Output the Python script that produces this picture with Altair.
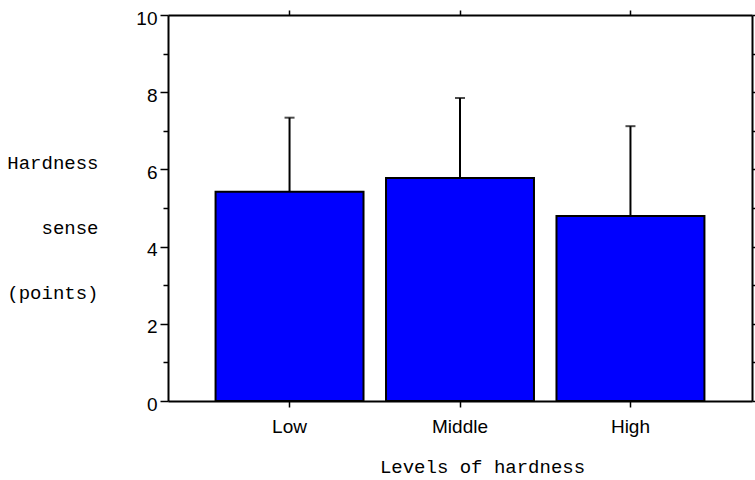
import altair as alt
import pandas as pd

levels = ["Low", "Middle", "High"]
means = [5.42, 5.78, 4.79]
sds = [1.92, 2.07, 2.33]
y_ticks = [0, 1, 2, 3, 4, 5, 6, 7, 8, 9, 10]

df = pd.DataFrame({
    "level": levels,
    "mean": means,
    "top": [m + s for m, s in zip(means, sds)],
})

TICK_FONT = "Liberation Sans"
TITLE_FONT = "Liberation Mono"

xscale = alt.Scale(domain=levels, paddingInner=0.132, paddingOuter=0.279)
yscale = alt.Scale(domain=[0, 10], nice=False, zero=True)

base = alt.Chart(df)

bars = base.mark_bar(color="#0000FF", stroke="black", strokeWidth=2).encode(
    x=alt.X("level:N", scale=xscale, sort=levels,
            axis=alt.Axis(orient="bottom", title="Levels of hardness", labelAngle=0,
                          tickSize=6, labelPadding=10, labelFontSize=19, labelFont=TICK_FONT,
                          titleFont=TITLE_FONT, titleFontSize=19, titleFontWeight="normal",
                          titleX=314, titleY=71, titleBaseline="alphabetic", titleAlign="center",
                          domainColor="black", domainWidth=2, tickColor="black", tickWidth=1.5,
                          labelColor="black", titleColor="black")),
    y=alt.Y("mean:Q", scale=yscale,
            axis=alt.Axis(orient="left", values=y_ticks,
                          labelExpr="datum.value % 2 === 0 ? datum.label : ''",
                          tickSize={"condition": {"test": "datum.value % 2 === 0", "value": 8}, "value": 5},
                          labelPadding=3, labelOffset=3, labelFontSize=19, labelFont=TICK_FONT,
                          title=["Hardness", "sense", "(points)"], titleAngle=0,
                          titleAlign="right", titleBaseline="alphabetic",
                          titleX=-70, titleY=153, titleLineHeight=65,
                          titleFont=TITLE_FONT, titleFontSize=19, titleFontWeight="normal",
                          domainColor="black", domainWidth=2, tickColor="black", tickWidth=1.5,
                          labelColor="black", titleColor="black", grid=False)),
)

errs = base.mark_rule(color="black", strokeWidth=2).encode(
    x=alt.X("level:N", scale=xscale, sort=levels,
            axis=alt.Axis(orient="top", labels=False, title=None, tickSize=5,
                          domainColor="black", domainWidth=2, tickColor="black", tickWidth=1.5)),
    y=alt.Y("mean:Q", scale=yscale,
            axis=alt.Axis(orient="right", values=y_ticks, labels=False, title=None, tickSize=5,
                          domainColor="black", domainWidth=2, tickColor="black", tickWidth=1.5,
                          grid=False)),
    y2="top:Q",
)

caps = base.mark_tick(color="black", thickness=2, size=10, orient="horizontal").encode(
    x=alt.X("level:N", scale=xscale, sort=levels, axis=None),
    y=alt.Y("top:Q", scale=yscale, axis=None),
)

chart = alt.layer(bars, errs, caps).resolve_axis(
    x="independent", y="independent"
).properties(
    width=584, height=386,
    autosize=alt.AutoSizeParams(type="none"),
    padding={"left": 168, "top": 15, "right": 3, "bottom": 79},
).configure_view(stroke=None).configure(background="white")

chart.save("out.html", embed_options={"renderer": "svg", "actions": False})
